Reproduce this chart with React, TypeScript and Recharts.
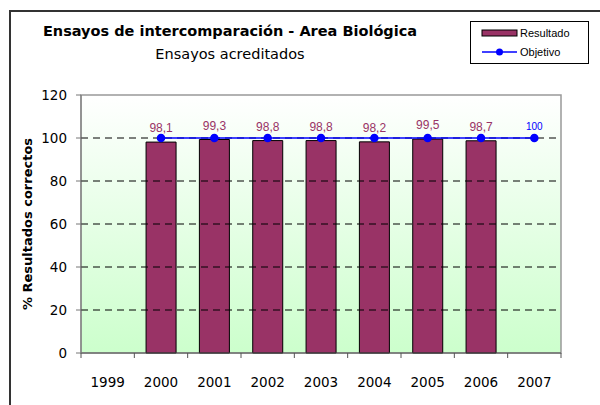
import {
  ComposedChart,
  Bar,
  Line,
  XAxis,
  YAxis,
  ReferenceArea,
  ReferenceLine,
  LabelList,
} from 'recharts';

const years = ['1999', '2000', '2001', '2002', '2003', '2004', '2005', '2006', '2007'];
const resultado = [null, 98.1, 99.3, 98.8, 98.8, 98.2, 99.5, 98.7, null];
const objetivo = [null, 100, 100, 100, 100, 100, 100, 100, 100];
const yTicks = [0, 20, 40, 60, 80, 100, 120];
const gridValues = [20, 40, 60, 80, 100];

const data = years.map((year, i) => ({
  year,
  resultado: resultado[i],
  objetivo: objetivo[i],
}));

const CHART_W = 600;
const CHART_H = 405;
const MARGIN = { top: 95, right: 39, bottom: 22, left: 0 };
const Y_WIDTH = 81;
const BAR_COLOR = '#993366';
const LINE_COLOR = '#0000ff';
const FONT = '"DejaVu Sans", sans-serif';
const ARIAL = '"Liberation Sans", Arial, sans-serif';

const halfBand = (CHART_W - MARGIN.right - Y_WIDTH) / years.length / 2;

const fmt = (v: any) => (v == null ? '' : String(v).replace('.', ','));

const XTick = (props: any) => {
  const { x, y, payload, index } = props;
  return (
    <g>
      <line x1={x - halfBand} y1={y} x2={x - halfBand} y2={y + 5} stroke="#555" />
      {index === years.length - 1 && (
        <line x1={x + halfBand} y1={y} x2={x + halfBand} y2={y + 5} stroke="#555" />
      )}
      <text x={x} y={y + 34} textAnchor="middle" fontSize={13.5} fontFamily={FONT} fill="#000">
        {payload.value}
      </text>
    </g>
  );
};

const ObjLabel = (props: any) => {
  const { x, y, value, index } = props;
  if (index !== years.length - 1) return null;
  return (
    <text x={x} y={y - 8} textAnchor="middle" fontSize={10} fontFamily={ARIAL} fill={LINE_COLOR}>
      {value}
    </text>
  );
};

const LegendBox = () => (
  <svg width={119} height={43} style={{ display: 'block' }}>
    <rect x={0.5} y={0.5} width={118} height={42} fill="#fff" stroke="#000" />
    <rect x={12} y={9} width={35} height={6} fill={BAR_COLOR} stroke="#000" strokeWidth={1} />
    <text x={50} y={16} fontSize={11} fontFamily={ARIAL} fill="#000">
      Resultado
    </text>
    <line x1={12} y1={31} x2={47} y2={31} stroke={LINE_COLOR} strokeWidth={1.5} />
    <circle cx={29.5} cy={31} r={3.5} fill={LINE_COLOR} />
    <text x={50} y={35} fontSize={11} fontFamily={ARIAL} fill="#000">
      Objetivo
    </text>
  </svg>
);

export default function App() {
  return (
    <div style={{ position: 'absolute', left: 0, top: 0, width: CHART_W, height: CHART_H, background: '#fff', overflow: 'hidden' }}>
      <div
        style={{
          position: 'absolute',
          left: 9,
          top: 10,
          width: 620,
          height: 420,
          borderLeft: '2px solid #333',
          borderTop: '2px solid #333',
        }}
      />
      <div
        style={{
          position: 'absolute',
          left: 0,
          width: 460,
          top: 23,
          textAlign: 'center',
          fontFamily: FONT,
          fontWeight: 'bold',
          fontSize: 14.5,
          color: '#000',
        }}
      >
        Ensayos de intercomparación - Area Biológica
      </div>
      <div
        style={{
          position: 'absolute',
          left: 0,
          width: 460,
          top: 46,
          textAlign: 'center',
          fontFamily: FONT,
          fontSize: 14.5,
          color: '#000',
        }}
      >
        Ensayos acreditados
      </div>
      <div style={{ position: 'absolute', left: 0, top: 0 }}>
        <ComposedChart width={CHART_W} height={CHART_H} data={data} margin={MARGIN} barCategoryGap="22%">
          <defs>
            <linearGradient id="plotBg" x1="0" y1="0" x2="0" y2="1">
              <stop offset="0%" stopColor="#ffffff" />
              <stop offset="100%" stopColor="#ccffcc" />
            </linearGradient>
          </defs>
          <ReferenceArea y1={0} y2={120} fill="url(#plotBg)" fillOpacity={1} stroke="#999" strokeWidth={1.5} ifOverflow="extendDomain" />
          {gridValues.map((v) => (
            <ReferenceLine key={v} y={v} stroke="#000" strokeDasharray="7 5" />
          ))}
          <XAxis
            dataKey="year"
            stroke="#555"
            tickLine={false}
            tickSize={0}
            tickMargin={0}
            height={30}
            tick={<XTick />}
            interval={0}
          />
          <YAxis
            width={Y_WIDTH}
            domain={[0, 120]}
            ticks={yTicks}
            stroke="#777"
            tickSize={5}
            tickMargin={9}
            tick={{ fontSize: 13.5, fontFamily: FONT, fill: '#000' }}
            label={{
              value: '% Resultados correctos',
              angle: -90,
              position: 'insideLeft',
              dx: 22,
              style: { fontSize: 13, fontFamily: FONT, fontWeight: 'bold', fill: '#000', textAnchor: 'middle' },
            }}
          />
          <Bar dataKey="resultado" name="Resultado" fill={BAR_COLOR} stroke="#000" strokeWidth={1} isAnimationActive={false}>
            <LabelList
              dataKey="resultado"
              position="top"
              offset={10}
              formatter={fmt}
              style={{ fontSize: 12, fontFamily: ARIAL, fill: BAR_COLOR }}
            />
          </Bar>
          <Line
            dataKey="objetivo"
            name="Objetivo"
            stroke={LINE_COLOR}
            strokeWidth={1.5}
            dot={{ r: 3.5, fill: LINE_COLOR, stroke: LINE_COLOR }}
            isAnimationActive={false}
          >
            <LabelList dataKey="objetivo" content={<ObjLabel />} />
          </Line>
        </ComposedChart>
      </div>
      <div style={{ position: 'absolute', left: 470, top: 21 }}>
        <LegendBox />
      </div>
    </div>
  );
}
